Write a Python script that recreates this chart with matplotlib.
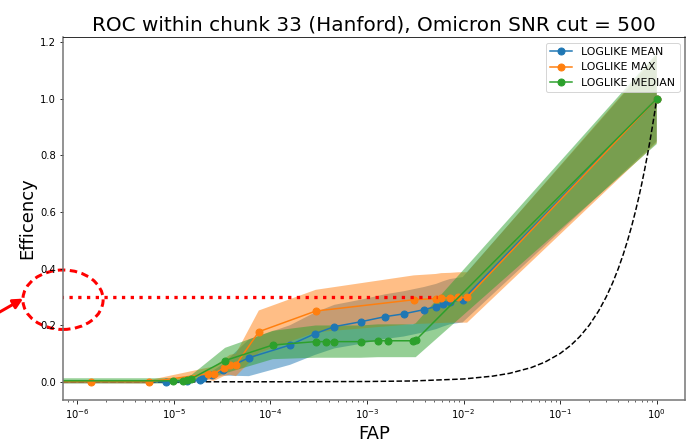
import numpy as np
import matplotlib
matplotlib.use('Agg')
import matplotlib.pyplot as plt
from matplotlib.patches import Ellipse, FancyArrowPatch
from matplotlib.transforms import blended_transform_factory

# ROC curves for the three loglike statistics: FAP, efficiency and spread (std) per threshold
fap_mean = [0, 8.3e-6, 1.37e-5, 1.87e-5, 2.0e-5, 2.5e-5, 3.2e-5, 6.0e-5, 1.6e-4, 2.9e-4,
            4.6e-4, 8.6e-4, 1.53e-3, 2.4e-3, 3.9e-3, 5.2e-3, 6.1e-3, 7.2e-3, 9.8e-3, 1.0]
eff_mean = [0.0, 0.0, 0.002, 0.007, 0.014, 0.025, 0.042, 0.085, 0.13, 0.17,
            0.195, 0.212, 0.23, 0.24, 0.255, 0.266, 0.275, 0.283, 0.29, 1.0]
std_mean = [0.005, 0.005, 0.006, 0.008, 0.01, 0.012, 0.02, 0.065, 0.07, 0.075,
            0.077, 0.078, 0.079, 0.08, 0.08, 0.08, 0.08, 0.08, 0.08, 0.15]

fap_max = [0, 1.4e-6, 5.6e-6, 2.26e-5, 2.6e-5, 3.3e-5, 3.8e-5, 4.4e-5, 7.6e-5, 2.95e-4,
           3.05e-3, 5.15e-3, 5.9e-3, 7.3e-3, 8.8e-3, 1.09e-2, 1.0]
eff_max = [0.0, 0.0, 0.0, 0.028, 0.028, 0.05, 0.06, 0.06, 0.177, 0.25,
           0.29, 0.294, 0.296, 0.297, 0.298, 0.298, 1.0]
std_max = [0.005, 0.005, 0.006, 0.022, 0.025, 0.03, 0.035, 0.04, 0.075, 0.075,
           0.086, 0.087, 0.088, 0.088, 0.089, 0.089, 0.155]

fap_med = [0, 9.8e-6, 1.25e-5, 1.37e-5, 1.5e-5, 3.4e-5, 1.06e-4, 2.95e-4, 3.76e-4, 4.6e-4,
           8.6e-4, 1.3e-3, 1.64e-3, 3.0e-3, 3.2e-3, 1.0]
eff_med = [0.005, 0.0035, 0.004, 0.007, 0.01, 0.075, 0.13, 0.142, 0.142, 0.142,
           0.142, 0.145, 0.145, 0.145, 0.147, 1.0]
std_med = [0.009, 0.009, 0.009, 0.01, 0.012, 0.045, 0.05, 0.057, 0.057, 0.057,
           0.057, 0.058, 0.058, 0.058, 0.06, 0.16]

# random-guess reference: efficiency equals FAP
fap_chance = [0, 1e-5, 1e-4, 1e-3, 3e-3, 0.01, 0.02, 0.03, 0.05, 0.07, 0.1, 0.13, 0.16, 0.2,
              0.25, 0.3, 0.35, 0.4, 0.45, 0.5, 0.55, 0.6, 0.65, 0.7, 0.75, 0.8, 0.85, 0.9,
              0.95, 1.0]
eff_chance = list(fap_chance)

target_eff = 0.3
target_fap = 5.3e-3

fig = plt.figure(figsize=(693 / 72, 447 / 72), dpi=72)
ax = fig.add_axes([63 / 693, 47 / 447, 622 / 693, 363 / 447])

ax.plot(fap_chance, eff_chance, 'k--')

series = [(fap_mean, eff_mean, std_mean, 'LOGLIKE MEAN'),
          (fap_max, eff_max, std_max, 'LOGLIKE MAX'),
          (fap_med, eff_med, std_med, 'LOGLIKE MEDIAN')]
for fap, eff, std, label in series:
    eff = np.array(eff)
    std = np.array(std)
    line, = ax.plot(fap, eff, 'o-', markersize=7, label=label)
    ax.fill_between(fap, eff - std, eff + std, color=line.get_color(), alpha=0.5, linewidth=0)

ax.set_xscale('log')

# highlight the target efficiency
ax.plot([0, target_fap], [target_eff, target_eff], ':', color='red', lw=3.3)
trans = blended_transform_factory(ax.transAxes, ax.transData)
ax.add_patch(Ellipse((0, 0.29), width=0.129, height=0.21, transform=trans, fill=False,
                     edgecolor='red', linestyle=(0, (2.5, 1.5)), lw=3, clip_on=False))
ax.add_patch(FancyArrowPatch((-0.115, 0.23), (-0.064, 0.294), transform=trans,
                             arrowstyle='-|>', mutation_scale=20, color='red', lw=3,
                             shrinkA=0, shrinkB=0, clip_on=False))

for side in ['left', 'right', 'bottom']:
    ax.spines[side].set_color('0.45')
    ax.spines[side].set_linewidth(1.5)

ax.set_title('ROC within chunk 33 (Hanford), Omicron SNR cut = 500', fontsize=20)
ax.set_xlabel('FAP', fontsize=18)
ax.set_ylabel('Efficency', fontsize=18)
ax.legend(loc='upper right', fontsize=11)

fig.savefig('out.png', dpi=72)
